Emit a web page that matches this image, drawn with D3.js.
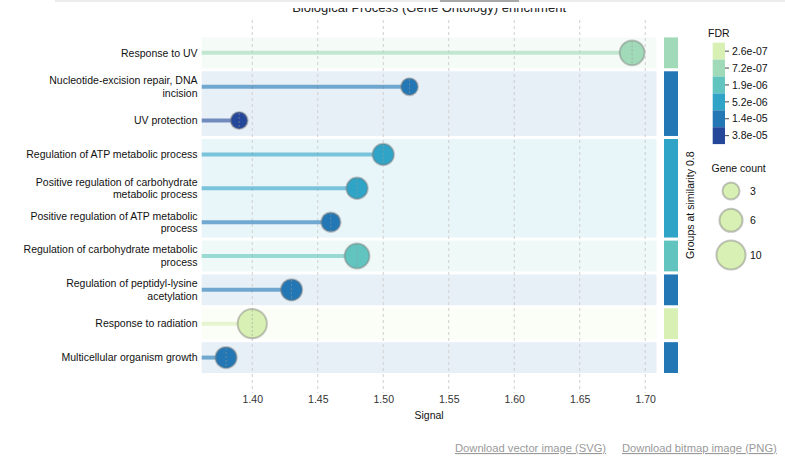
<!DOCTYPE html>
<html>
<head>
<meta charset="utf-8">
<script src="https://cdn.jsdelivr.net/npm/d3@7"></script>
<style>
  html, body { margin: 0; padding: 0; background: #fff; }
  svg { display: block; font-family: "Liberation Sans", Arial, sans-serif; }
</style>
</head>
<body>
<svg id="chart" width="785" height="462"></svg>
<script>
// ---------- data ----------
const title = "Biological Process (Gene Ontology) enrichment";
const categories = [
  "Response to UV",
  "Nucleotide-excision repair, DNA incision",
  "UV protection",
  "Regulation of ATP metabolic process",
  "Positive regulation of carbohydrate metabolic process",
  "Positive regulation of ATP metabolic process",
  "Regulation of carbohydrate metabolic process",
  "Regulation of peptidyl-lysine acetylation",
  "Response to radiation",
  "Multicellular organism growth"
];
const signal    = [1.69, 1.52, 1.39, 1.50, 1.48, 1.46, 1.48, 1.43, 1.40, 1.38];
const geneCount = [7, 3, 3, 5, 5, 4, 7, 5, 10, 5];
const fdr       = [7.0e-7, 1.3e-5, 3.6e-5, 5.0e-6, 5.3e-6, 1.5e-5, 1.9e-6, 1.3e-5, 2.6e-7, 1.4e-5];
const groups    = [1, 2, 2, 3, 3, 3, 4, 5, 6, 7];
const signalTicks = [1.40, 1.45, 1.50, 1.55, 1.60, 1.65, 1.70];
const fdrTickValues = [2.6e-7, 7.2e-7, 1.9e-6, 5.2e-6, 1.4e-5, 3.8e-5];
const fdrTickLabels = ["2.6e-07", "7.2e-07", "1.9e-06", "5.2e-06", "1.4e-05", "3.8e-05"];
const fdrColors = ["#d8f0b4", "#a0dab8", "#62c4be", "#2fa4c6", "#2277b4", "#24479a"];
const geneCountLegend = [3, 6, 10];
const groupAxisTitle = "Groups at similarity 0.8";
const links = ["Download vector image (SVG)", "Download bitmap image (PNG)"];

// ---------- setup ----------
const svg = d3.select("#chart");
const rows = categories.map((c, i) => ({
  name: c, signal: signal[i], count: geneCount[i], fdr: fdr[i], group: groups[i]
}));

const sMin = d3.min(signal), sMax = d3.max(signal), span = sMax - sMin;
const x = d3.scaleLinear().domain([sMin - 0.06 * span, sMax + 0.06 * span]).range([201.7, 656.5]);
const y = d3.scaleBand().domain(categories).range([35.9, 374.5]).paddingInner(0.09).paddingOuter(0.045);
const bw = y.bandwidth();

const mids = d3.pairs(fdrTickValues).map(([a, b]) => Math.sqrt(a * b));
const color = d3.scaleThreshold().domain(mids).range(fdrColors);
const r = d3.scaleSqrt().domain([3, 10]).range([8.5, 14.6]);

// group info
const groupData = d3.groups(rows, d => d.group).map(([g, items]) => ({
  g,
  y0: y(items[0].name),
  y1: y(items[items.length - 1].name) + bw,
  color: color(d3.min(items, d => d.fdr))
}));

// ---------- title (partially hidden under page header) ----------
svg.append("clipPath").attr("id", "titleClip")
  .append("rect").attr("x", 0).attr("y", 8).attr("width", 785).attr("height", 20);
svg.append("text")
  .attr("clip-path", "url(#titleClip)")
  .attr("x", (x.range()[0] + x.range()[1]) / 2).attr("y", 12)
  .attr("text-anchor", "middle").attr("font-size", 13).attr("fill", "#222")
  .text(title);
svg.append("rect").attr("x", 55).attr("y", 0).attr("width", 730).attr("height", 2).attr("fill", "#ececec");
svg.append("rect").attr("x", 440).attr("y", 0).attr("width", 79).attr("height", 2).attr("fill", "#a8a8a8");

// ---------- group backgrounds ----------
svg.append("g").selectAll("rect").data(groupData).join("rect")
  .attr("x", x.range()[0]).attr("width", x.range()[1] - x.range()[0])
  .attr("y", d => d.y0).attr("height", d => d.y1 - d.y0)
  .attr("fill", d => d.color).attr("fill-opacity", 0.11);

// ---------- grid lines ----------
svg.append("g").selectAll("line").data(signalTicks).join("line")
  .attr("x1", d => x(d)).attr("x2", d => x(d))
  .attr("y1", 20).attr("y2", 393)
  .attr("stroke", "#cfcfcf").attr("stroke-width", 1).attr("stroke-dasharray", "3,3");

// ---------- x axis labels ----------
const xAxis = d3.axisBottom(x).tickValues(signalTicks).tickFormat(d3.format(".2f")).tickSize(0).tickPadding(0);
const gx = svg.append("g").attr("transform", "translate(0,396)").call(xAxis);
gx.select(".domain").remove();
gx.selectAll("text").attr("font-size", 10.5).attr("fill", "#333").attr("font-family", "Liberation Sans, Arial, sans-serif");
svg.append("text").attr("x", (x.range()[0] + x.range()[1]) / 2).attr("y", 419)
  .attr("text-anchor", "middle").attr("font-size", 10.5).attr("fill", "#111").text("Signal");

// ---------- lollipops ----------
const lg = svg.append("g");
lg.selectAll("line.stem").data(rows).join("line").attr("class", "stem")
  .attr("x1", x.range()[0]).attr("x2", d => x(d.signal))
  .attr("y1", d => y(d.name) + bw / 2).attr("y2", d => y(d.name) + bw / 2)
  .attr("stroke", d => color(d.fdr)).attr("stroke-opacity", 0.6).attr("stroke-width", 4);
lg.selectAll("circle").data(rows).join("circle")
  .attr("cx", d => x(d.signal)).attr("cy", d => y(d.name) + bw / 2).attr("r", d => r(d.count))
  .attr("fill", d => color(d.fdr))
  .attr("stroke", "#7f7f7f").attr("stroke-opacity", 0.45).attr("stroke-width", 2);
lg.selectAll("line.mark").data(rows).join("line").attr("class", "mark")
  .attr("x1", d => x(d.signal)).attr("x2", d => x(d.signal))
  .attr("y1", d => y(d.name) + bw / 2 - r(d.count) + 1).attr("y2", d => y(d.name) + bw / 2 + r(d.count) - 1)
  .attr("stroke", "#9a9a9a").attr("stroke-opacity", 0.55).attr("stroke-width", 1).attr("stroke-dasharray", "2,2");

// ---------- category labels ----------
const labG = svg.append("g").attr("font-size", 10.5).attr("fill", "#111");
const maxW = 180;
rows.forEach(d => {
  const cy = y(d.name) + bw / 2;
  const t = labG.append("text").attr("x", 197.5).attr("y", cy).attr("text-anchor", "end");
  // word wrap by measured width
  const words = d.name.split(" ");
  const lines = [];
  let cur = "";
  const probe = labG.append("text").attr("visibility", "hidden");
  words.forEach(w => {
    const test = cur ? cur + " " + w : w;
    probe.text(test);
    if (probe.node().getComputedTextLength() > maxW && cur) { lines.push(cur); cur = w; }
    else cur = test;
  });
  lines.push(cur);
  probe.remove();
  const lh = 12.6;
  lines.forEach((ln, i) => {
    t.append("tspan").attr("x", 197.5)
      .attr("y", cy + (i - (lines.length - 1) / 2) * lh + 3.7)
      .text(ln);
  });
});

// ---------- group color bars ----------
svg.append("g").selectAll("rect").data(groupData).join("rect")
  .attr("x", 664).attr("width", 14)
  .attr("y", d => d.y0).attr("height", d => d.y1 - d.y0)
  .attr("fill", d => d.color);
svg.append("text")
  .attr("transform", `translate(694,${(y.range()[0] + y.range()[1]) / 2}) rotate(-90)`)
  .attr("text-anchor", "middle").attr("font-size", 10.5).attr("fill", "#111")
  .text(groupAxisTitle);

// ---------- FDR legend ----------
const fl = svg.append("g");
fl.append("text").attr("x", 708).attr("y", 36.5).attr("font-size", 10.5).attr("fill", "#111").text("FDR");
const bh = 16.9, by0 = 42.7;
fl.selectAll("rect").data(fdrColors).join("rect")
  .attr("x", 712.7).attr("width", 12.3)
  .attr("y", (d, i) => by0 + i * bh).attr("height", bh)
  .attr("fill", d => d);
fl.selectAll("line").data(fdrTickLabels).join("line")
  .attr("x1", 725).attr("x2", 729)
  .attr("y1", (d, i) => by0 + (i + 0.5) * bh).attr("y2", (d, i) => by0 + (i + 0.5) * bh)
  .attr("stroke", "#444").attr("stroke-width", 1);
fl.selectAll("text.tl").data(fdrTickLabels).join("text").attr("class", "tl")
  .attr("x", 732).attr("y", (d, i) => by0 + (i + 0.5) * bh + 3.7)
  .attr("font-size", 10.5).attr("fill", "#111").text(d => d);

// ---------- Gene count legend ----------
const gl = svg.append("g");
gl.append("text").attr("x", 711.5).attr("y", 171.8).attr("font-size", 10.5).attr("fill", "#111").text("Gene count");
const gcY = [191, 220.3, 255];
gl.selectAll("circle").data(geneCountLegend).join("circle")
  .attr("cx", 731).attr("cy", (d, i) => gcY[i]).attr("r", d => r(d))
  .attr("fill", fdrColors[0]).attr("stroke", "#7f7f7f").attr("stroke-opacity", 0.45).attr("stroke-width", 2);
gl.selectAll("text.gc").data(geneCountLegend).join("text").attr("class", "gc")
  .attr("x", 750).attr("y", (d, i) => gcY[i] + 3.7)
  .attr("font-size", 10.5).attr("fill", "#111").text(d => d);

// ---------- download links ----------
svg.append("text").attr("x", 455).attr("y", 452).attr("font-size", 11.2).attr("fill", "#9a9a9a")
  .attr("text-decoration", "underline").text(links[0]);
svg.append("text").attr("x", 622).attr("y", 452).attr("font-size", 11.2).attr("fill", "#9a9a9a")
  .attr("text-decoration", "underline").text(links[1]);
</script>
</body>
</html>
